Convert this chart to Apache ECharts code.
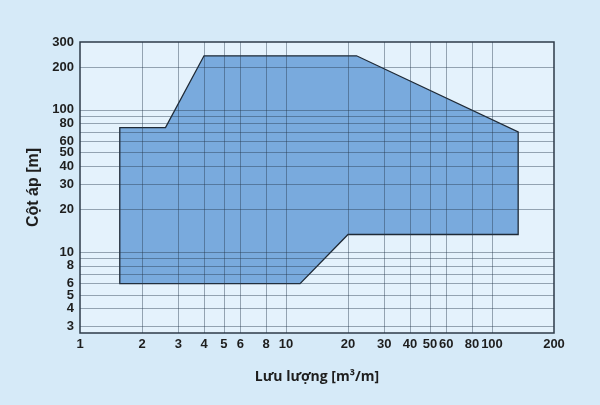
<!DOCTYPE html>
<html>
<head>
<meta charset="utf-8">
<script src="https://cdn.jsdelivr.net/npm/echarts@6/dist/echarts.min.js"></script>
<style>
  html, body { margin: 0; padding: 0; background: #d6eaf8; }
  #chart { width: 600px; height: 405px; }
</style>
</head>
<body>
<div id="chart"></div>
<script>
// operating envelope (flow m3/m, head m)
const flowQ = [1.56, 1.56, 2.6, 4, 22, 134, 134, 20, 11.7];
const headH = [6, 75, 75, 240, 240, 70, 13.3, 13.3, 6];

const xLabels = [1, 2, 3, 4, 5, 6, 8, 10, 20, 30, 40, 50, 60, 80, 100, 200];
const xGrid = [2, 3, 4, 5, 6, 8, 10, 20, 30, 40, 50, 60, 80, 100];
const yLabels = [3, 4, 5, 6, 8, 10, 20, 30, 40, 50, 60, 80, 100, 200, 300];
const yGrid = [3, 4, 5, 6, 7, 8, 9, 10, 20, 30, 40, 50, 60, 70, 80, 90, 100, 200];

const FONT = "'Liberation Sans', Arial, sans-serif";
const points = flowQ.map((q, i) => [q, headH[i]]);

const chart = echarts.init(document.getElementById("chart"));

const labelStyle = { color: "#1e1e1e", fontFamily: FONT, fontSize: 13, fontWeight: "bold" };

chart.setOption({
  backgroundColor: "#d6eaf8",
  animation: false,
  grid: { left: 80, right: 46, top: 42, bottom: 72,
          show: true, backgroundColor: "#e4f2fc", borderColor: "#2e3b48", borderWidth: 1.5, z: 0 },
  xAxis: {
    type: "log", logBase: 10, min: 1, max: 200,
    name: "Lưu lượng [m³/m]", nameLocation: "middle", nameGap: 37,
    nameTextStyle: { color: "#1e1e1e", fontFamily: "'Open Sans', sans-serif", fontSize: 14, fontWeight: "bold" },
    axisLine: { show: false },
    axisTick: { show: false },
    axisLabel: Object.assign({ customValues: xLabels, margin: 5 }, labelStyle),
    splitLine: { show: false }
  },
  yAxis: {
    type: "log", logBase: 10, min: 2.7, max: 300,
    name: "Cột áp [m]", nameLocation: "middle", nameGap: 38, nameRotate: 90,
    nameTextStyle: { color: "#1e1e1e", fontFamily: FONT, fontSize: 16, fontWeight: "bold" },
    axisLine: { show: false },
    axisTick: { show: false },
    axisLabel: Object.assign({ customValues: yLabels, margin: 6 }, labelStyle),
    splitLine: { show: false }
  },
  series: [
    {
      type: "custom",
      coordinateSystem: "cartesian2d",
      data: points,
      z: 2,
      renderItem(params, api) {
        if (params.dataIndex !== 0) return null;
        const pts = points.map(p => api.coord(p));
        return {
          type: "polygon",
          shape: { points: pts },
          style: { fill: "#79aadd", stroke: "#1f2a36", lineWidth: 1.3 }
        };
      }
    },
    {
      // grid lines drawn through the axes' own scales
      type: "line",
      data: [],
      z: 3,
      markLine: {
        silent: true,
        symbol: "none",
        label: { show: false },
        lineStyle: { color: "rgba(35,55,75,0.42)", width: 1, type: "solid" },
        data: xGrid.map(v => ({ xAxis: v })).concat(yGrid.map(v => ({ yAxis: v })))
      }
    }
  ]
});
</script>
</body>
</html>
